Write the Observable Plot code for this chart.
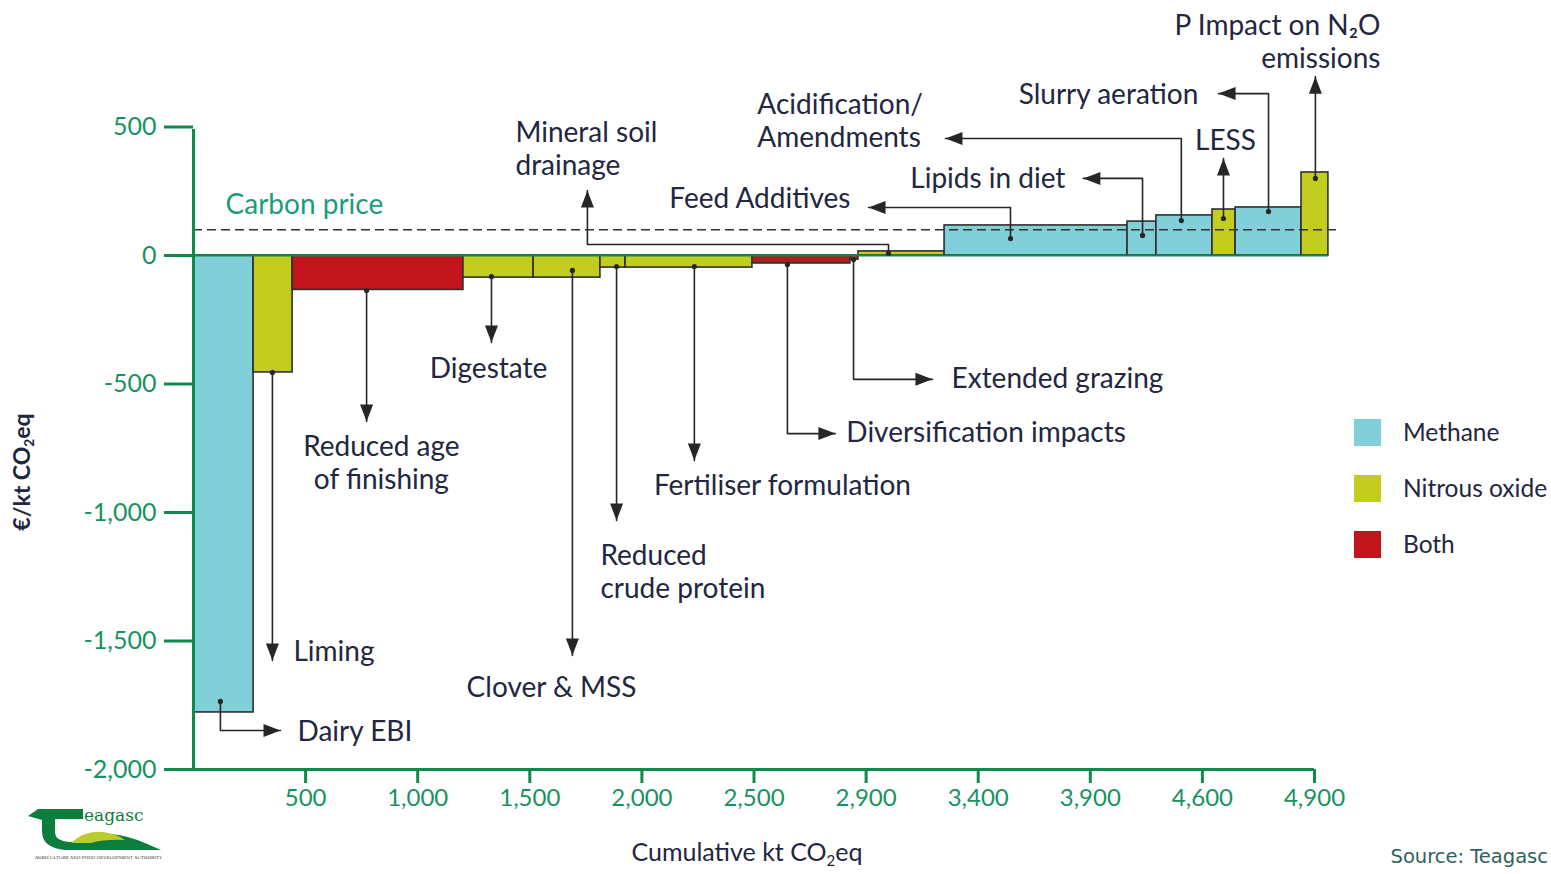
<!DOCTYPE html>
<html><head><meta charset="utf-8">
<script src="https://cdn.jsdelivr.net/npm/d3@7"></script>
<script src="https://cdn.jsdelivr.net/npm/@observablehq/plot@0.6"></script>
<style>
body{margin:0;background:#fff;font-family:Lato,sans-serif}
#wrap{position:relative;width:1551px;height:874px;overflow:hidden;background:#fff}
#wrap > svg{position:absolute;left:0;top:0}
.ov{position:absolute;white-space:nowrap;color:#232640}
.sw{position:absolute;width:27px;height:27px}
sub{font-size:0.6em;vertical-align:-0.3em;line-height:0}
</style></head><body><div id="wrap"></div>
<script>
// ---- data ----
const measures = ["Dairy EBI","Liming","Reduced age of finishing","Digestate","Clover & MSS","Reduced crude protein","Fertiliser formulation","Diversification impacts","Extended grazing","Mineral soil drainage","Feed Additives","Lipids in diet","Acidification/Amendments","LESS","Slurry aeration","P Impact on N2O emissions"];
const gasType = ["Methane","Nitrous oxide","Both","Nitrous oxide","Nitrous oxide","Nitrous oxide","Nitrous oxide","Both","Both","Nitrous oxide","Methane","Methane","Methane","Nitrous oxide","Methane","Nitrous oxide"];
const abatement = [268,174,762,313,298,112,566,437,36,384,816,129,250,103,294,120];
const cost = [-1778,-455,-134,-86,-86,-47,-47,-31,-16,16,117,132,156,179,187,323];
const gasKeys = ["Methane","Nitrous oxide","Both"];
const gasColors = ["#80cfd9","#c2cd1f","#c1151b"];
const yTickValues = [-2000,-1500,-1000,-500,0,500];
const xTickValues = [500,1000,1500,2000,2500,3000,3500,4000,4500,5000];
const xTickLabels = ["500","1,000","1,500","2,000","2,500","2,900","3,400","3,900","4,600","4,900"];
const carbonPrice = 100;

// ---- annotation layout (leader paths in data units) ----
const annotations = [
  {text:"Dairy EBI", path:[[120,-1735],[120,-1848],[388,-1848]], label:[464,-1848], anchor:"start"},
  {text:"Liming", path:[[352,-455],[352,-1576]], label:[446,-1537], anchor:"start"},
  {text:"Reduced age\nof finishing", path:[[772,-136],[772,-646]], label:[838,-802], anchor:"middle"},
  {text:"Digestate", path:[[1329,-82],[1329,-339]], label:[1316,-436], anchor:"middle"},
  {text:"Clover & MSS", path:[[1690,-58],[1690,-1556]], label:[1597,-1677], anchor:"middle"},
  {text:"Reduced\ncrude protein", path:[[1887,-43],[1887,-1031]], label:[1815,-1226], anchor:"start"},
  {text:"Fertiliser formulation", path:[[2234,-43],[2234,-798]], label:[2627,-891], anchor:"middle"},
  {text:"Diversification impacts", path:[[2649,-35],[2649,-693],[2863,-693]], label:[2912,-685], anchor:"start"},
  {text:"Extended grazing", path:[[2944,-16],[2944,-482],[3296,-482]], label:[3381,-475], anchor:"start"},
  {text:"Mineral soil\ndrainage", path:[[3100,8],[3100,43],[1757,43],[1757,253]], label:[1436,418], anchor:"start"},
  {text:"Feed Additives", path:[[3644,66],[3644,187],[3011,187]], label:[2930,226], anchor:"end"},
  {text:"Lipids in diet", path:[[4233,78],[4233,300],[3969,300]], label:[3889,304], anchor:"end"},
  {text:"Acidification/\nAmendments", path:[[4406,136],[4406,455],[3354,455]], label:[2515,527], anchor:"start"},
  {text:"LESS", path:[[4594,144],[4594,377]], label:[4603,451], anchor:"middle"},
  {text:"Slurry aeration", path:[[4795,171],[4795,630],[4572,630]], label:[4482,630], anchor:"end"},
  {text:"P Impact on N\u2082O\nemissions", path:[[5004,300],[5004,696]], label:[5294,835], anchor:"end"}
];

// ---- derived tables ----
let cum = 0;
const bars = measures.map((m,i) => { const x1 = cum; cum += abatement[i]; return {measure:m, gas:gasType[i], x1, x2:cum, cost:cost[i]}; });
const totalX = cum;
const leaderPts = annotations.flatMap((a,i) => a.path.map(([x,y]) => ({id:i, x, y})));
const startDots = annotations.map(a => ({x:a.path[0][0], y:a.path[0][1]}));
const tips = annotations.map(a => {
  const n = a.path.length, [x,y] = a.path[n-1], [px,py] = a.path[n-2];
  let angle = 0;
  if (x === px) angle = y > py ? 0 : 180; else angle = x > px ? 90 : 270;
  return {x, y, angle};
});
const labels = annotations.map(a => ({text:a.text, x:a.label[0], y:a.label[1], anchor:a.anchor}));
const arrowSymbol = {draw(ctx){ ctx.moveTo(0,0); ctx.lineTo(6.5,17); ctx.lineTo(-6.5,17); ctx.closePath(); }};
const xLabelMap = new Map(xTickValues.map((v,i)=>[v,xTickLabels[i]]));

const axisGreen = "#0f8a4c", textGreen = "#17935f", ink = "#232640", lineInk = "#262626";
const labelStyle = {fontSize:28, fill:ink, lineAnchor:"middle", lineHeight:1.18};

const chart = Plot.plot({
  width:1551, height:874,
  marginLeft:193, marginRight:237, marginTop:126.5, marginBottom:105,
  x:{domain:[0,5000], axis:null},
  y:{domain:[-2000,500], axis:null},
  color:{domain:gasKeys, range:gasColors},
  style:{fontFamily:"Lato, sans-serif", background:"transparent", overflow:"visible"},
  marks:[
    Plot.rect(bars, {x1:"x1", x2:"x2", y1:0, y2:"cost", fill:"gas", stroke:"#2f2f2f", strokeWidth:1.6}),
    Plot.ruleY([0], {x1:0, x2:totalX, stroke:axisGreen, strokeWidth:2}),
    Plot.ruleY([carbonPrice], {x1:0, x2:5116, stroke:"#333", strokeWidth:1.5, strokeDasharray:"9,5"}),
    Plot.ruleX([0], {y1:-2000, y2:490, stroke:axisGreen, strokeWidth:3}),
    Plot.ruleY([-2000], {x1:0, x2:5000, stroke:axisGreen, strokeWidth:3}),
    Plot.axisY(yTickValues, {anchor:"left", tickSize:29, tickPadding:8, stroke:axisGreen, fill:textGreen, strokeWidth:3, fontSize:25, label:null, tickFormat:d => d.toLocaleString("en-US")}),
    Plot.axisX(xTickValues, {anchor:"bottom", tickSize:14, tickPadding:5, stroke:axisGreen, fill:textGreen, strokeWidth:3, fontSize:24, label:null, tickFormat:d => xLabelMap.get(d)}),
    Plot.line(leaderPts, {x:"x", y:"y", z:"id", stroke:lineInk, strokeWidth:1.6, curve:"linear"}),
    Plot.dot(startDots, {x:"x", y:"y", r:2.6, fill:lineInk, stroke:null}),
    Plot.dot(tips, {x:"x", y:"y", r:5, symbol:arrowSymbol, rotate:"angle", fill:lineInk, stroke:null}),
    Plot.text(labels.filter(d=>d.anchor==="start"), {x:"x", y:"y", text:"text", textAnchor:"start", ...labelStyle}),
    Plot.text(labels.filter(d=>d.anchor==="middle"), {x:"x", y:"y", text:"text", textAnchor:"middle", ...labelStyle}),
    Plot.text(labels.filter(d=>d.anchor==="end"), {x:"x", y:"y", text:"text", textAnchor:"end", ...labelStyle}),
    Plot.text(["Carbon price"], {x:143, y:198, text:d=>d, textAnchor:"start", lineAnchor:"middle", fontSize:28, fill:"#1d9c7c"})
  ]
});
const wrap = document.getElementById("wrap");
wrap.appendChild(chart);

// ---- overlays: axis titles, legend, source, logo ----
function ov(html, css){ const d=document.createElement("div"); d.className="ov"; d.innerHTML=html; d.style.cssText+=css; wrap.appendChild(d); return d; }
ov("€/kt CO<sub>2</sub>eq", "left:21px;top:472px;transform:translate(-50%,-50%) rotate(-90deg);font-size:23px;font-weight:700;");
ov("Cumulative kt CO<sub>2</sub>eq", "left:747px;top:851px;transform:translate(-50%,-50%);font-size:25px;");
gasKeys.forEach((k,i) => {
  const s=document.createElement("div"); s.className="sw";
  s.style.cssText+=`left:1354px;top:${419+i*56}px;background:${gasColors[i]}`; wrap.appendChild(s);
  ov(k, `left:1403px;top:${431+i*56}px;transform:translateY(-50%);font-size:24.5px;`);
});
ov("Source: Teagasc", "right:3px;top:856px;transform:translateY(-50%);font-size:19.5px;font-family:'DejaVu Sans',sans-serif;color:#2f615c;");
const logo = document.createElementNS("http://www.w3.org/2000/svg","svg");
logo.setAttribute("width","145"); logo.setAttribute("height","62");
logo.style.cssText="position:absolute;left:25px;top:803px";
logo.innerHTML = `
<path d="M3 13 L13 6 L58 6 L58 16 L30 16 L30 30 Q31 38 44 39 L60 38 Q72 30 86 31 Q104 33 120 40 L136 47 L40 47 Q17 45 17 28 L17 17 Z" fill="#0d7d3e"/>
<path d="M46 40 Q60 27 78 29 Q92 31 100 37 Q80 36 66 40 Z" fill="#b9cc2c"/>
<text x="59" y="18" font-family="DejaVu Serif, serif" font-size="17" fill="#0d7d3e">eagasc</text>
<text x="10" y="56" font-family="DejaVu Serif, serif" font-size="4.3" fill="#333">AGRICULTURE AND FOOD DEVELOPMENT AUTHORITY</text>`;
wrap.appendChild(logo);
</script>
</body></html>
